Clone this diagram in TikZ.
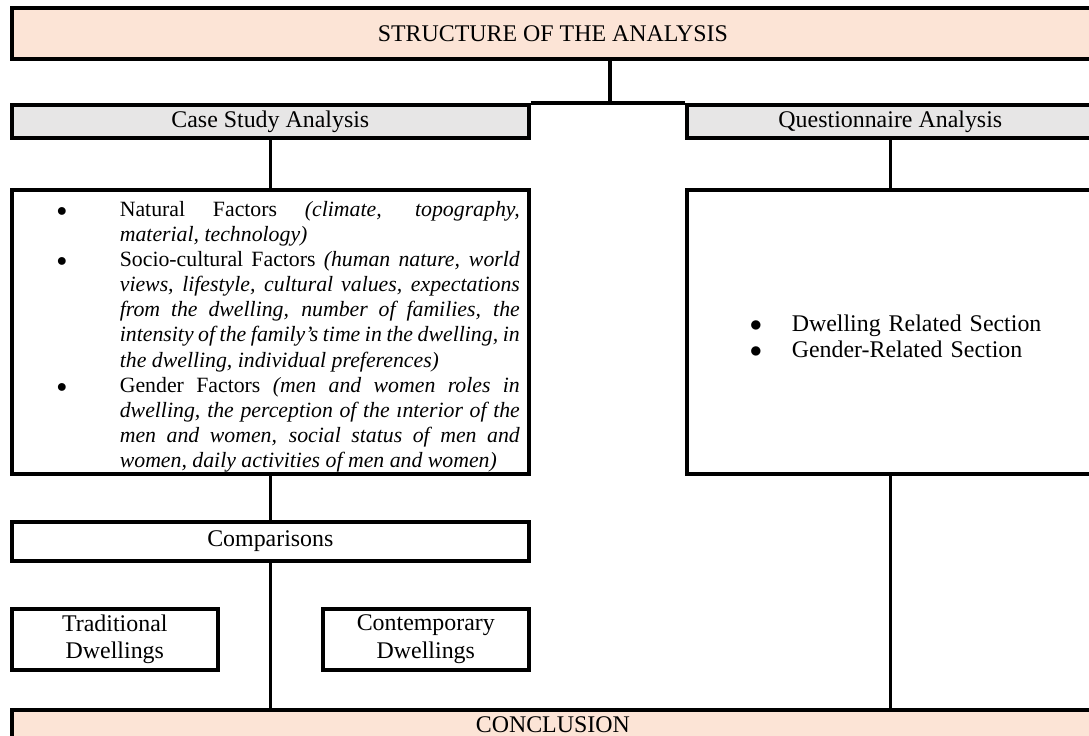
\documentclass[tikz,border=0pt]{standalone}
\usepackage{fontspec}
\setmainfont{Liberation Serif}
\usetikzlibrary{positioning,calc}
\definecolor{peach}{HTML}{FCE4D6}
\definecolor{headgrey}{HTML}{E7E6E6}
\newcommand{\boxfont}{\fontsize{17}{19.5}\selectfont}
\newcommand{\listfont}{\fontsize{15.5}{17.8}\selectfont}
\newcommand{\bigbullet}{\rlap{$\bullet$}}
\newenvironment{factorlist}[3]{%
  \begin{list}{\bigbullet}{\setlength{\leftmargin}{#1}\setlength{\labelwidth}{0pt}%
    \setlength{\labelsep}{#2}\setlength{\rightmargin}{#3}\setlength{\itemsep}{0pt}%
    \setlength{\parsep}{0pt}\setlength{\topsep}{0pt}\setlength{\partopsep}{0pt}%
    \setlength{\itemindent}{0pt}\setlength{\listparindent}{0pt}}}
  {\end{list}}

\begin{document}
\begin{tikzpicture}[x=0.25mm,y=-0.25mm,
  box/.style={draw,line width=2.6pt,inner sep=0pt,anchor=north west,font=\boxfont,align=center},
  link/.style={line width=2.6pt}]
  \useasboundingbox (0,0) rectangle (1089,736);
  \node[box,fill=peach,minimum width=270.5mm,minimum height=12.75mm] (top) at (10,6) {STRUCTURE OF THE ANALYSIS};
  \node[box,fill=headgrey,minimum width=129.25mm,minimum height=8.25mm] (case) at (10,103) {Case Study Analysis};
  \node[box,fill=headgrey,minimum width=101.75mm,minimum height=8.25mm] (quest) at (685,103) {Questionnaire Analysis};
  \node[box,minimum width=129.25mm,minimum height=71mm,text width=129.25mm,align=justify,font=\listfont] (factors) at (10,188) {%
    \begin{factorlist}{27mm}{15.75mm}{2.25mm}
      \item Natural Factors \textit{(climate, topography,\linebreak material, technology)}
      \item Socio-cultural Factors \textit{(human nature, world\linebreak views, lifestyle, cultural values, expectations\linebreak from the dwelling, number of families, the\linebreak intensity of the family’s time in the dwelling, in\linebreak the dwelling, individual preferences)}
      \item Gender Factors \textit{(men and women roles in\linebreak dwelling, the perception of the ınterior of the\linebreak men and women, social status of men and\linebreak women, daily activities of men and women)}
    \end{factorlist}};
  \node[box,minimum width=101.75mm,minimum height=71mm,text width=101.75mm,align=left,font=\fontsize{17}{18}\selectfont] (sections) at (685,188) {%
    \begin{factorlist}{26.25mm}{10.5mm}{0mm}
      \item Dwelling Related Section
      \item Gender-Related Section
    \end{factorlist}};
  \node[box,minimum width=129.25mm,minimum height=9.75mm] (comp) at (10,520) {Comparisons};
  \node[box,minimum width=51.5mm,minimum height=15.25mm] (trad) at (10,607) {Traditional\\Dwellings};
  \node[box,minimum width=51.5mm,minimum height=15.25mm] (cont) at (321,607) {Contemporary\\Dwellings};
  \node[box,fill=peach,minimum width=270.5mm,minimum height=7.5mm] (concl) at (10,708) {CONCLUSION};
  % connectors
  \coordinate (split) at (610,103);
  \draw[link] (top.south -| split) -- (split);
  \draw[link] (case.north east) -- (quest.north west);
  \draw[link] (case.south) -- (factors.north);
  \draw[link] (quest.south) -- (sections.north);
  \draw[link] (factors.south) -- (comp.north);
  \draw[link] (comp.south) -- (comp.south |- concl.north);
  \draw[link] (sections.south) -- (sections.south |- concl.north);
\end{tikzpicture}
\end{document}
